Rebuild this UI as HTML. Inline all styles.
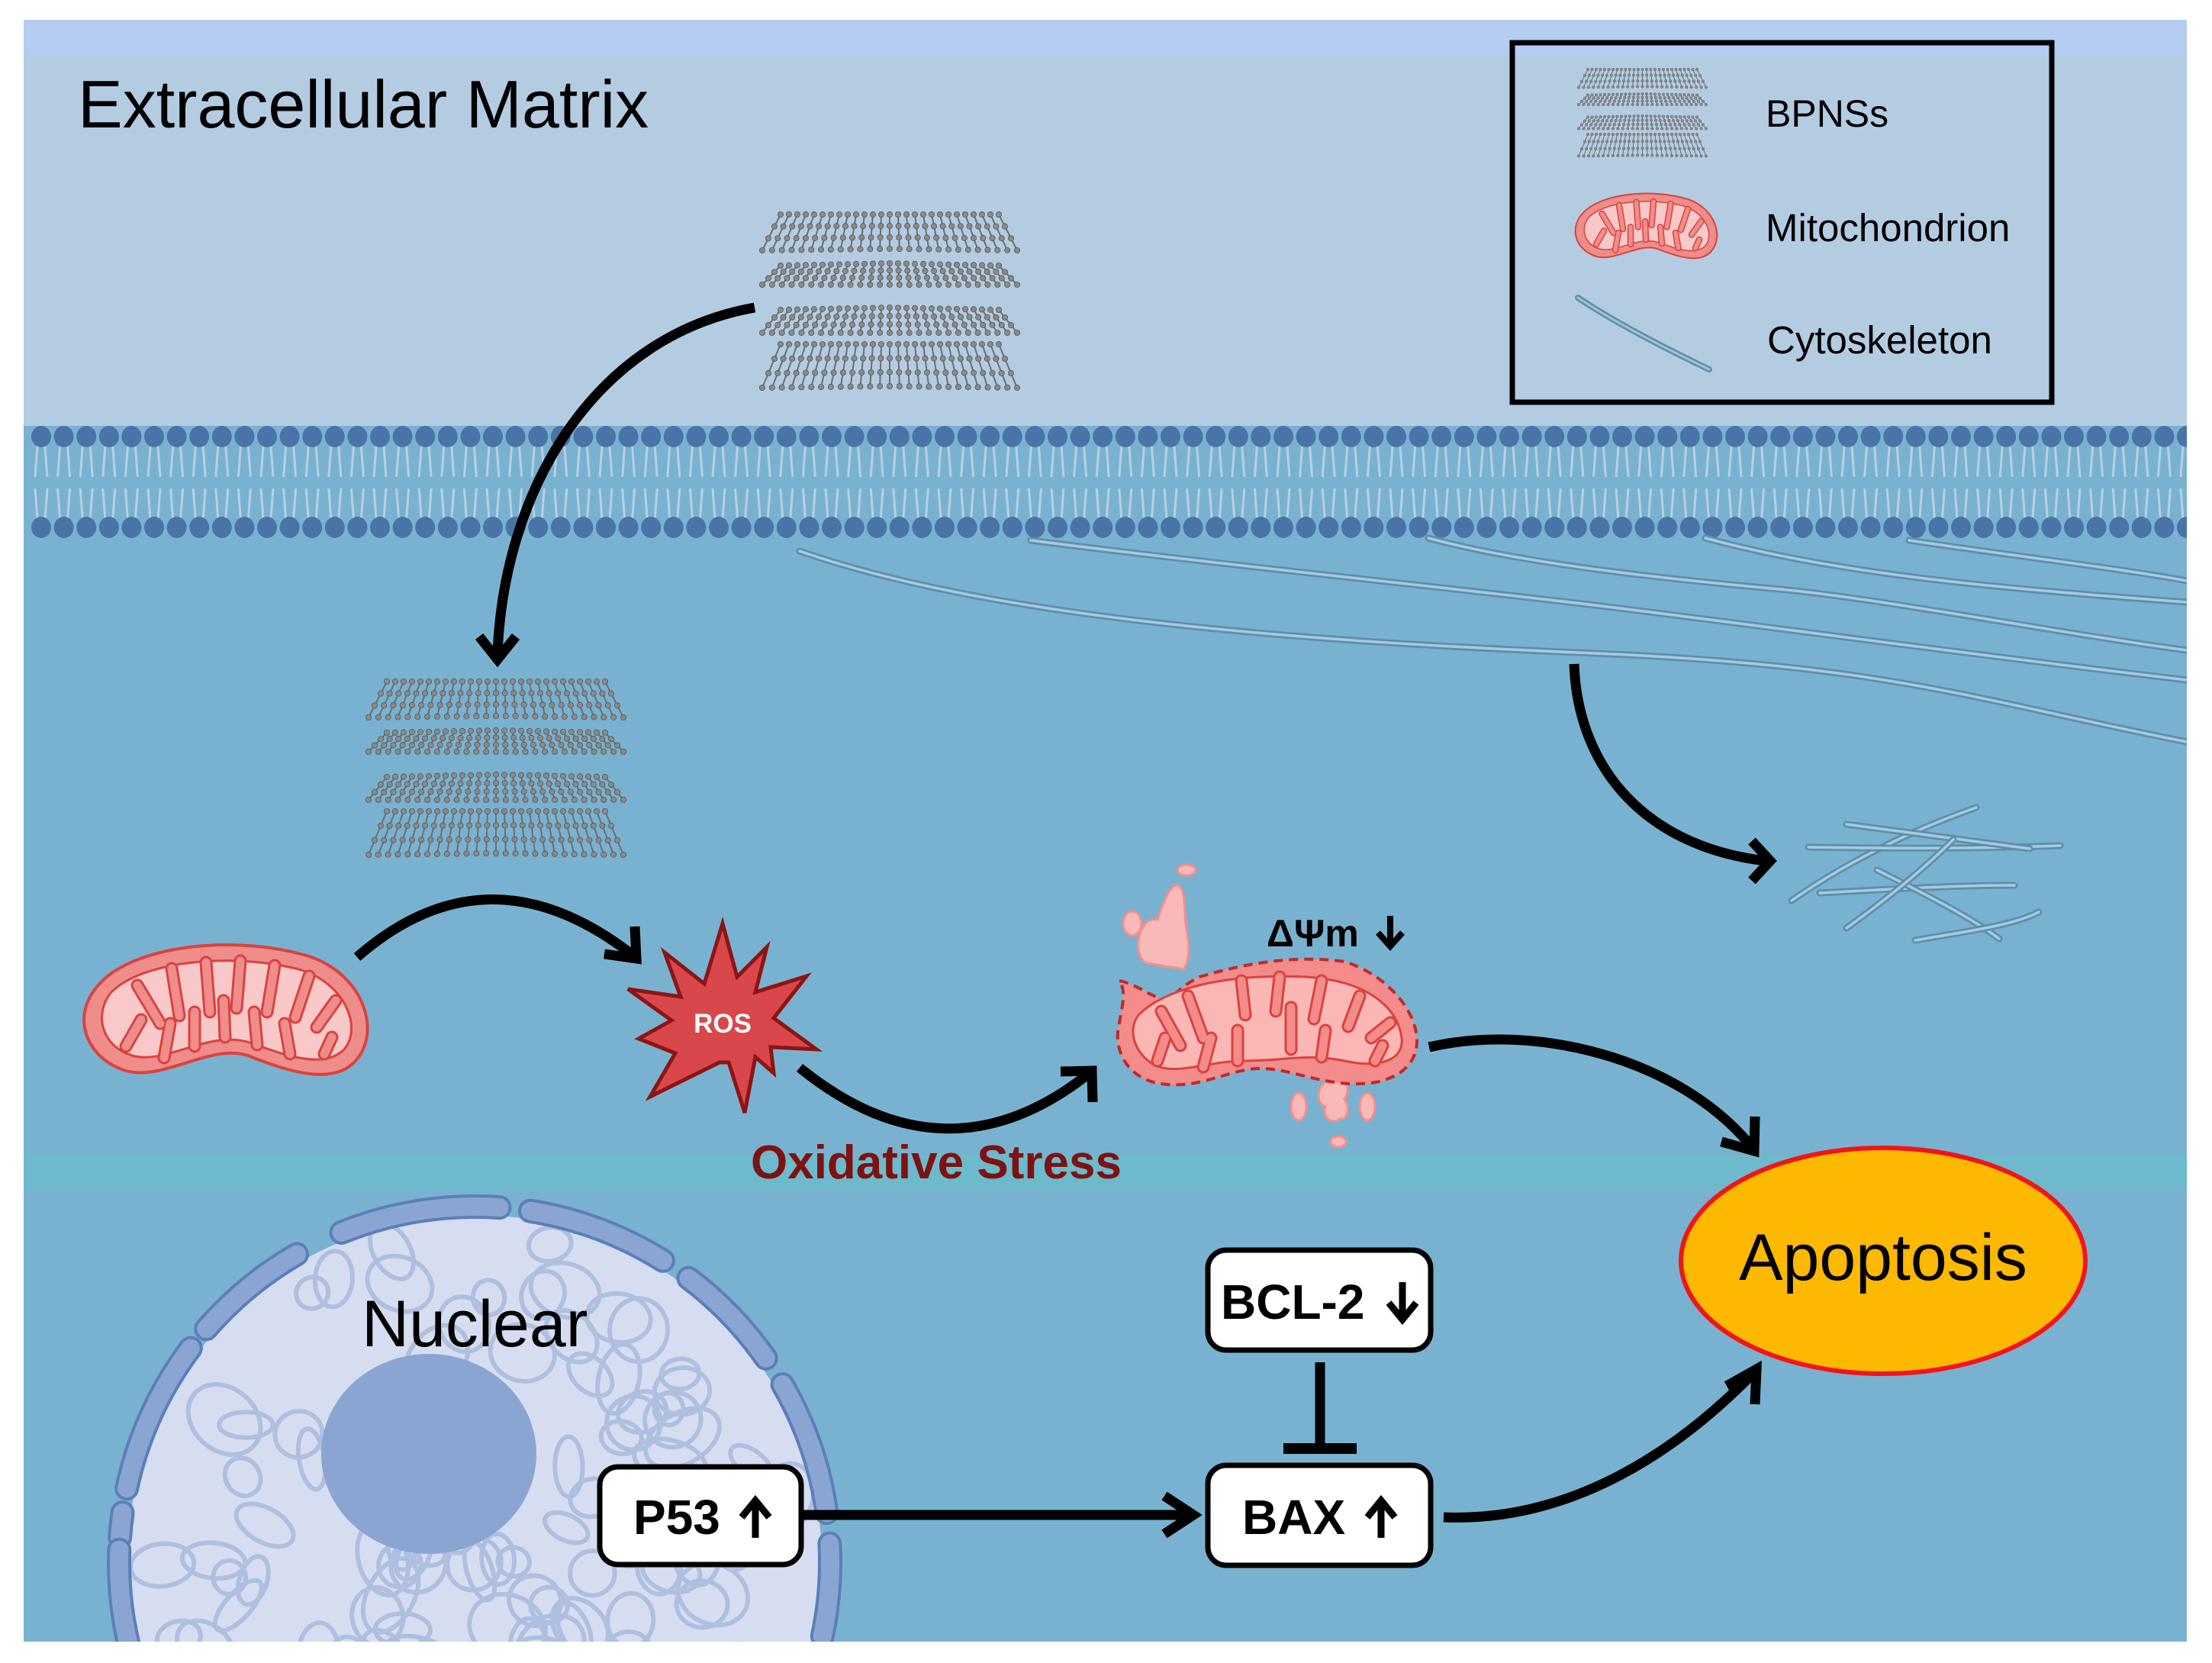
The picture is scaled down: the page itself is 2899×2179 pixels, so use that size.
<!DOCTYPE html>
<html><head><meta charset="utf-8"><style>
html,body{margin:0;padding:0;background:#fff;overflow:hidden;width:2899px;height:2179px;}
svg{display:block;}
text{font-family:"Liberation Sans",Arial,sans-serif;}
</style></head><body>
<svg id="s" xmlns="http://www.w3.org/2000/svg" width="2899" height="2179" viewBox="0 0 2899 2179">
<defs>
<clipPath id="frame"><rect x="31" y="26" width="2835" height="2125"/></clipPath>
<clipPath id="nucClip"><circle cx="622" cy="2047" r="452"/></clipPath>
<g id="mito">
  <path d="M22,62 C65,8 200,-8 300,22 C372,46 396,122 360,160 C330,192 270,172 220,152 C170,136 110,186 60,172 C8,156 -12,102 22,62 Z" fill="#ef8d8b" stroke="#d9433f" stroke-width="4"/>
  <path d="M40,70 C80,28 200,16 290,40 C350,60 370,118 345,145 C318,170 270,152 222,135 C168,118 112,165 68,152 C28,140 18,98 40,70 Z" fill="#f9c9c9" stroke="#d9433f" stroke-width="3"/>
  <g stroke="#d9433f" stroke-width="17" stroke-linecap="round" fill="none">
    <path d="M75,60 L105,110 M120,38 L130,100 M165,30 L170,95 M210,28 L205,90 M255,34 L245,95 M300,48 L282,102 M335,80 L310,115 M60,140 L80,105 M110,155 L118,110 M150,140 L150,95 M190,128 L188,80 M232,138 L228,95 M275,150 L268,110 M320,150 L330,128"/>
  </g>
  <g stroke="#ef8d8b" stroke-width="11" stroke-linecap="round" fill="none">
    <path d="M75,60 L105,110 M120,38 L130,100 M165,30 L170,95 M210,28 L205,90 M255,34 L245,95 M300,48 L282,102 M335,80 L310,115 M60,140 L80,105 M110,155 L118,110 M150,140 L150,95 M190,128 L188,80 M232,138 L228,95 M275,150 L268,110 M320,150 L330,128"/>
  </g>
</g>
</defs>
<rect width="2899" height="2179" fill="#fff"/>
<g clip-path="url(#frame)">
  <rect x="31" y="26" width="2835" height="48" fill="#b4cdf0"/>
  <rect x="31" y="72" width="2835" height="488" fill="#b4cce2"/>
  <rect x="31" y="558" width="2835" height="1600" fill="#79b2d0"/>
  <rect x="31" y="1513" width="2835" height="46" fill="#6cbacb"/>
  <g id="membrane"></g>
  <g id="cyto" fill="none" stroke-linecap="round"></g>
  <circle cx="622" cy="2047" r="455" fill="#d6ddf0"/>
  <g id="chrom" clip-path="url(#nucClip)" fill="none" stroke="#afbfe0" stroke-width="6"></g>
  <g id="env" fill="none"></g>
  <ellipse cx="562" cy="1905" rx="141" ry="131" fill="#8aa5d2"/>
  <text x="474" y="1764" font-size="86" fill="#000">Nuclear</text>
</g>

<text x="102" y="167" font-size="88" fill="#000">Extracellular Matrix</text>

<rect x="1982" y="56" width="707" height="471" fill="none" stroke="#000" stroke-width="7"/>
<g id="bpLegend"></g>
<use href="#mito" transform="translate(2062,250) scale(0.5)"/>
<g fill="none" stroke-linecap="round">
<path d="M2068,390 C2120,425 2190,460 2240,484" stroke="#5f8fa8" stroke-width="8"/>
<path d="M2068,390 C2120,425 2190,460 2240,484" stroke="#9cc4d6" stroke-width="3"/>
</g>
<text x="2314" y="166" font-size="50">BPNSs</text>
<text x="2314" y="316" font-size="51">Mitochondrion</text>
<text x="2316" y="463" font-size="51">Cytoskeleton</text>

<g id="bp1"></g><g id="bp2"></g>

<use href="#mito" transform="translate(105,1231)"/>

<polygon id="ros" fill="#d9474a" stroke="#8b1515" stroke-width="5" stroke-linejoin="miter"/>
<text x="947" y="1353" font-size="35" font-weight="bold" fill="#fff" text-anchor="middle">ROS</text>

<g transform="translate(1462,1250)">
  <g fill="#f8b9b8" stroke="#f18f8e" stroke-width="3">
    <path d="M40,12 C20,0 30,-50 55,-45 C60,-60 70,-90 80,-90 C92,-90 90,-60 92,-40 C95,-20 100,0 90,20 Z"/>
    <ellipse cx="22" cy="-40" rx="12" ry="16"/>
    <ellipse cx="93" cy="-110" rx="12" ry="7"/>
    <path d="M288,150 C300,160 310,180 300,190 C310,205 300,220 295,215 C285,225 270,215 275,200 C260,195 265,170 280,165 Z"/>
    <ellipse cx="240" cy="200" rx="10" ry="18"/>
    <ellipse cx="330" cy="200" rx="10" ry="18"/>
    <ellipse cx="292" cy="246" rx="10" ry="7"/>
  </g>
  <path d="M5,35 C30,40 50,60 70,60 C80,50 90,40 110,30 C160,15 230,0 300,10 C350,25 395,70 395,115 C395,150 360,170 320,170 C270,172 230,150 190,150 C150,150 110,178 60,170 C20,165 -5,130 5,90 C8,70 15,50 5,35 Z" fill="#f38c8b" stroke="#c02a2a" stroke-width="4" stroke-dasharray="12,8"/>
  <path d="M30,80 C60,50 130,25 250,30 C330,35 370,70 375,110 C378,140 345,150 300,140 C250,130 220,140 170,140 C120,140 80,160 50,145 C25,130 15,100 30,80 Z" fill="#fbb7b6" stroke="#d9433f" stroke-width="3"/>
  <g stroke="#d9433f" stroke-width="17" stroke-linecap="round" fill="none">
    <path d="M60,75 L85,120 M95,55 L115,110 M165,35 L170,80 M215,30 L210,75 M270,35 L260,85 M320,55 L305,95 M360,90 L335,110 M55,140 L65,110 M115,148 L125,110 M160,140 L160,100 M230,125 L230,70 M270,135 L275,100 M340,140 L350,120"/>
  </g>
  <g stroke="#f38c8b" stroke-width="11" stroke-linecap="round" fill="none">
    <path d="M60,75 L85,120 M95,55 L115,110 M165,35 L170,80 M215,30 L210,75 M270,35 L260,85 M320,55 L305,95 M360,90 L335,110 M55,140 L65,110 M115,148 L125,110 M160,140 L160,100 M230,125 L230,70 M270,135 L275,100 M340,140 L350,120"/>
  </g>
</g>
<text x="1660" y="1240" font-size="50" font-weight="bold">ΔΨm</text>
<g stroke="#000" stroke-width="8" fill="none">
<path d="M1822,1200 L1822,1236 M1806,1222 L1822,1240 L1838,1222"/>
</g>

<text x="984" y="1544" font-size="62" font-weight="bold" fill="#7d1212">Oxidative Stress</text>

<g fill="none" stroke="#000" stroke-width="13" stroke-linejoin="miter">
  <path d="M989,403 C780,440 660,640 652,858"/>
  <path d="M628,834 L652,864 L676,834"/>
  <path d="M468,1254 Q640,1104 830,1252"/>
  <path d="M792,1250 L834,1256 L832,1214"/>
  <path d="M1048,1399 Q1240,1555 1428,1406"/>
  <path d="M1390,1404 L1431,1403 L1432,1444"/>
  <path d="M1873,1372 C2010,1340 2200,1385 2296,1503"/>
  <path d="M2256,1496 L2299,1508 L2300,1463"/>
  <path d="M1892,1988 C2060,1995 2200,1900 2299,1798"/>
  <path d="M2263,1816 L2302,1794 L2300,1840"/>
  <path d="M1053,1985 L1562,1985"/>
  <path d="M1526,1960 L1564,1985 L1526,2010"/>
  <path d="M2063,870 C2068,1010 2160,1110 2314,1128"/>
  <path d="M2296,1102 L2320,1128 L2296,1154"/>
  <path d="M1730,1785 L1730,1893"/>
</g>
<rect x="1682" y="1891" width="96" height="14" fill="#000"/>

<g fill="#fff" stroke="#000" stroke-width="7">
  <rect x="786" y="1922" width="264" height="128" rx="24"/>
  <rect x="1583" y="1638" width="292" height="131" rx="24"/>
  <rect x="1583" y="1920" width="292" height="131" rx="24"/>
</g>
<g font-weight="bold" font-size="64">
  <text x="830" y="2010">P53</text>
  <text x="1600" y="1728">BCL-2</text>
  <text x="1628" y="2010">BAX</text>
</g>
<g stroke="#000" stroke-width="9" fill="none">
  <path d="M990,2015 L990,1968 M972,1988 L990,1966 L1008,1988"/>
  <path d="M1838,1680 L1838,1727 M1820,1707 L1838,1729 L1856,1707"/>
  <path d="M1810,2015 L1810,1968 M1792,1988 L1810,1966 L1828,1988"/>
</g>

<ellipse cx="2468" cy="1652" rx="265" ry="148" fill="#fdb800" stroke="#f2141a" stroke-width="6"/>
<text x="2468" y="1677" font-size="86" text-anchor="middle">Apoptosis</text>

<script>
var NS="http://www.w3.org/2000/svg";
function el(t,a,p){var e=document.createElementNS(NS,t);for(var k in a)e.setAttribute(k,a[k]);(p||document.getElementById('s')).appendChild(e);return e;}
var m=document.getElementById('membrane');
for(var x=54;x<2880;x+=29.6){
  el('path',{d:'M'+(x-5)+',585 L'+(x-8)+',625 M'+(x+5)+',585 L'+(x+8)+',625 M'+(x-8)+',640 L'+(x-5)+',680 M'+(x+8)+',640 L'+(x+5)+',680',stroke:'#b8cfe2','stroke-width':3,fill:'none'},m);
  el('ellipse',{cx:x,cy:572,rx:13,ry:14,fill:'#4a73a8'},m);
  el('ellipse',{cx:x,cy:691,rx:13,ry:14,fill:'#4a73a8'},m);
}
var c=document.getElementById('cyto');
var fl=["M1048,722 C1300,810 1700,840 2090,856 S2600,920 2866,972",
"M1351,708 C1600,740 1900,770 2090,793 S2600,860 2866,891",
"M1872,705 C2000,740 2200,760 2332,772 S2700,830 2866,852",
"M2235,705 C2400,750 2600,770 2866,789",
"M2502,708 C2650,730 2780,745 2866,761",
"M2348,1180 C2420,1130 2500,1090 2590,1058",
"M2370,1110 C2500,1112 2600,1112 2700,1108",
"M2420,1080 C2500,1090 2580,1102 2660,1112",
"M2385,1170 C2480,1165 2560,1160 2640,1160",
"M2460,1140 C2520,1170 2580,1200 2620,1230",
"M2510,1232 C2580,1220 2640,1212 2672,1195",
"M2420,1216 C2470,1180 2520,1140 2560,1100"];
fl.forEach(function(d){el('path',{d:d,stroke:'#5d8fac','stroke-width':9},c);el('path',{d:d,stroke:'#a8cadb','stroke-width':3.5},c);});
var env=document.getElementById('env');
var R=466,cx=622,cy=2047;
function arc(a0,a1){a0*=Math.PI/180;a1*=Math.PI/180;var x0=cx+R*Math.cos(a0),y0=cy+R*Math.sin(a0),x1=cx+R*Math.cos(a1),y1=cy+R*Math.sin(a1);return 'M'+x0+','+y0+' A'+R+','+R+' 0 0 1 '+x1+','+y1;}
var segs=[[-112,-86],[-81,-58],[-53,-35],[-30,-8],[-3,12],[16,40],[-168,-143],[-139,-120],[-176,-172],[-200,-178]];
segs.forEach(function(s){var d=arc(s[0],s[1]);el('path',{d:d,stroke:'#5b7fb8','stroke-width':32,'stroke-linecap':'round'},env);el('path',{d:d,stroke:'#8aa5d2','stroke-width':24,'stroke-linecap':'round'},env);});
var ch=document.getElementById('chrom');var seed=7;function rnd(){seed=(seed*9301+49297)%233280;return seed/233280;}
for(var i=0;i<140;i++){var a=rnd()*6.28,r=Math.sqrt(rnd())*430;var x=cx+r*Math.cos(a),y=cy+r*Math.sin(a);el('ellipse',{cx:x,cy:y,rx:18+rnd()*35,ry:14+rnd()*30,transform:'rotate('+(rnd()*180)+' '+x+' '+y+')'},ch);}
var pts=[[947,1210],[966,1280],[1005,1241],[990,1300],[1057,1279],[1014,1334],[1070,1375],[1010,1372],[1014,1406],[990,1385],[976,1458],[955,1392],[943,1392],[852,1437],[885,1380],[837,1361],[880,1337],[823,1296],[892,1306],[871,1248],[923,1289]];
document.getElementById('ros').setAttribute('points',pts.map(function(p){return p.join(',')}).join(' '));
function bpns(g,x0,y0,sc){
  var L=[[0,45,1],[64,28,0],[122,33,0],[170,55,1]];
  var W=326;
  L.forEach(function(l){
    var yt=y0+l[0]*sc,h=l[1]*sc;
    for(var i=0;i<=26;i++){
      var fx=i/26,x=x0+fx*W*sc,off=(fx-0.5);
      var sl=off*40*sc;
      var x1=x-sl,y1=yt+(l[2]?0:Math.abs(off)*6*sc),x2=x+sl*0.2,y2=yt+h-(l[2]?Math.abs(off)*-4*sc:0);
      el('line',{x1:x1,y1:y1,x2:x2,y2:y2,stroke:'#6e6e6e','stroke-width':2*sc},g);
      for(var k=0;k<4;k++){var t=k/3;el('circle',{cx:x1+(x2-x1)*t,cy:y1+(y2-y1)*t,r:3.6*sc,fill:'#8a8a8a',stroke:'#555','stroke-width':0.8*sc},g);}
    }
  });
}
bpns(document.getElementById('bp1'),1003,281,1);
bpns(document.getElementById('bp2'),487,893,1);
bpns(document.getElementById('bpLegend'),2071,91,0.5);
</script>
</svg>
</body></html>
